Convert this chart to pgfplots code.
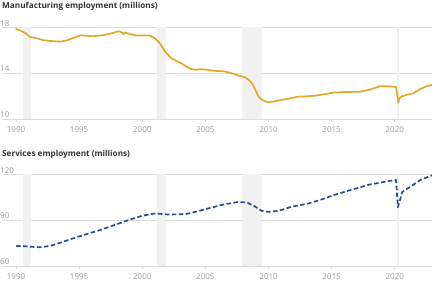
\documentclass[border=0pt]{standalone}
\usepackage{pgfplots}
\pgfplotsset{compat=1.18}
\usepackage{fontspec}
\setmainfont{Open Sans}
\definecolor{manu}{HTML}{E2A829}
\definecolor{serv}{HTML}{2B4C8C}
\definecolor{recess}{HTML}{F1F1F1}
\definecolor{gridc}{HTML}{DDDDDD}
\definecolor{tickc}{HTML}{9A9A9A}
\definecolor{titlec}{HTML}{333333}
\pgfplotsset{
  panel/.style={
    scale only axis,
    width=430pt, height=91.7pt,
    xmin=1988.89, xmax=2022.95,
    xtick={1990,1995,2000,2005,2010,2015,2020},
    xticklabels={1990,1995,2000,2005,2010,2015,2020},
    axis line style={draw=none},
    ymajorgrids, grid style={gridc, line width=0.6pt},
    xtick pos=bottom, tick align=outside,
    major tick length=3pt,
    xtick style={draw=gridc, line width=0.6pt},
    ytick style={draw=none},
    /pgf/number format/assume math mode=true,
    tick label style={font=\fontsize{8}{9}\selectfont, text=tickc},
    yticklabel style={anchor=south west, inner sep=1pt, xshift=0pt},
    xticklabel style={yshift=-1pt},
    clip=false,
  }
}
\begin{document}
\begin{tikzpicture}
\path[use as bounding box] (0,0) rectangle (432pt,-284pt);
\node[anchor=west, inner sep=0pt, text=titlec, font=\bfseries\fontsize{8.2}{9}\selectfont] at (2pt,-6.5pt) {Manufacturing employment (millions)};
\node[anchor=west, inner sep=0pt, text=titlec, font=\bfseries\fontsize{8.2}{9}\selectfont] at (2pt,-154pt) {Services employment (millions)};
\begin{axis}[panel, at={(2pt,-27.3pt)}, anchor=north west,
  ymin=10, ymax=18, ytick={10,14,18}]
\addplot[fill=recess, draw=none, forget plot] coordinates {(1990.55,18) (1991.2,18)} \closedcycle;
\addplot[fill=recess, draw=none, forget plot] coordinates {(2001.17,18) (2001.85,18)} \closedcycle;
\addplot[fill=recess, draw=none, forget plot] coordinates {(2007.92,18) (2009.45,18)} \closedcycle;
\addplot[fill=recess, draw=none, forget plot] coordinates {(2020.15,18) (2020.31,18)} \closedcycle;
\addplot[manu, line width=1.7pt, line join=round, line cap=round] coordinates {
(1990.0,17.85) (1990.4,17.7) (1990.8,17.45) (1991.1,17.15) (1991.6,17.05)
(1992.2,16.87) (1992.8,16.8) (1993.5,16.75) (1994.0,16.85) (1994.6,17.1)
(1995.1,17.3) (1996.1,17.22) (1996.8,17.3) (1997.4,17.42) (1998.1,17.65)
(1998.35,17.6) (1998.5,17.4) (1998.6,17.55) (1999.4,17.3) (2000.0,17.28)
(2000.5,17.3) (2001.0,17.05) (2001.4,16.6) (2001.8,15.9) (2002.3,15.3)
(2003.1,14.85) (2003.8,14.38) (2004.2,14.3) (2004.7,14.35) (2005.2,14.28)
(2005.75,14.2) (2006.5,14.15) (2007.0,14.02) (2007.6,13.8) (2008.1,13.65)
(2008.4,13.45) (2008.7,13.1) (2008.9,12.7) (2009.1,12.2) (2009.3,11.85)
(2009.6,11.6) (2010.0,11.45) (2010.5,11.55) (2011.0,11.65) (2011.6,11.78)
(2012.35,11.95) (2013.0,11.98) (2013.7,12.03) (2014.4,12.15) (2015.1,12.3)
(2016.0,12.35) (2017.2,12.38) (2018.0,12.55) (2018.8,12.85) (2019.5,12.85)
(2020.1,12.8) (2020.28,11.45) (2020.4,11.85) (2020.6,12.0) (2021.0,12.12)
(2021.5,12.25) (2022.0,12.6) (2022.5,12.85) (2022.95,12.98)
};
\end{axis}
\begin{axis}[panel, at={(2pt,-174.3pt)}, anchor=north west,
  ymin=60, ymax=120, ytick={60,90,120}]
\addplot[fill=recess, draw=none, forget plot] coordinates {(1990.55,120) (1991.2,120)} \closedcycle;
\addplot[fill=recess, draw=none, forget plot] coordinates {(2001.17,120) (2001.85,120)} \closedcycle;
\addplot[fill=recess, draw=none, forget plot] coordinates {(2007.92,120) (2009.45,120)} \closedcycle;
\addplot[fill=recess, draw=none, forget plot] coordinates {(2020.15,120) (2020.31,120)} \closedcycle;
\addplot[serv, line width=1.7pt, dash pattern=on 4.5pt off 2.5pt, line join=round] coordinates {
(1990.0,73.0) (1990.5,73.1) (1991.1,72.6) (1991.9,72.3) (1992.7,73.1)
(1993.5,75.2) (1994.5,78.0) (1995.6,80.9) (1996.65,83.5) (1997.97,87.3)
(1998.9,90.0) (1999.95,92.8) (2001.0,94.4) (2002.06,93.7) (2003.4,93.9)
(2004.2,95.4) (2005.2,97.6) (2006.4,100.2) (2007.6,101.9) (2008.3,101.5)
(2008.9,99.1) (2009.45,96.1) (2010.0,95.4) (2010.8,96.1) (2011.8,98.7)
(2013.15,100.9) (2014.2,103.5) (2015.1,106.2) (2016.45,109.6) (2018.0,113.3)
(2019.9,116.1) (2020.1,116.3) (2020.25,98.5) (2020.6,108.5) (2021.2,111.7)
(2022.0,116.1) (2022.8,118.9) (2022.95,119.3)
};
\end{axis}
\end{tikzpicture}
\end{document}
